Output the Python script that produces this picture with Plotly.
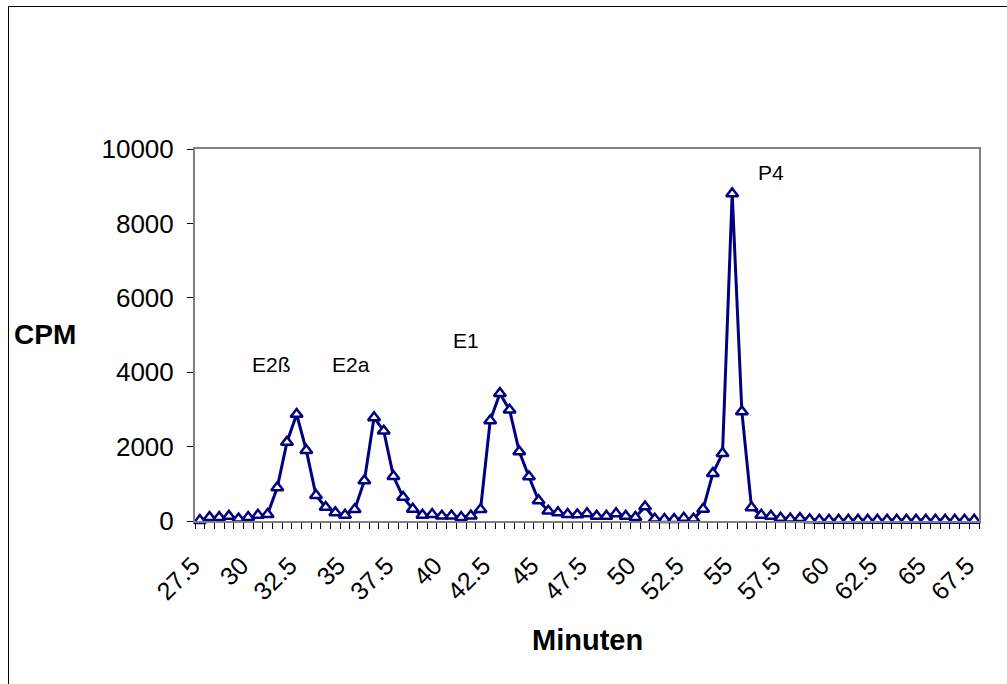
import numpy as np
import plotly.graph_objects as go

minutes = [27.5 + 0.5 * i for i in range(81)]
cpm = [20, 100, 100, 130, 60, 100, 160, 180, 900, 2120,
       2870, 1900, 690, 370, 225, 160, 310, 1085, 2780, 2420,
       1200, 640, 320, 160, 180, 135, 140, 100, 140, 310,
       2700, 3430, 2985, 1865, 1190, 550, 270, 225, 180, 170,
       200, 130, 130, 200, 130, 100, 385, 55, 45, 45,
       80, 55, 320, 1280, 1820, 8800, 2940, 360, 160, 130,
       80, 60, 70, 40, 25, 25, 25, 25, 25, 25,
       25, 25, 25, 25, 25, 25, 25, 25, 25, 25, 25]
tick_vals = [27.5 + 2.5 * k for k in range(17)]
tick_text = [("%g" % v) for v in tick_vals]
peak_labels = ["E2ß", "E2a", "E1", "P4"]
peak_pos = [(31.2, 4220), (35.3, 4220), (41.25, 4840), (57.0, 9380)]

FONT = "Liberation Sans, Arial, sans-serif"
NAVY = "#000080"

fig = go.Figure()
fig.add_trace(go.Scatter(
    x=minutes, y=cpm, mode="lines+markers",
    line=dict(color=NAVY, width=3),
    marker=dict(symbol="triangle-up", size=10.5, color="white",
                line=dict(color=NAVY, width=2.5)),
    showlegend=False, cliponaxis=False,
))

for txt, (px, py) in zip(peak_labels, peak_pos):
    fig.add_annotation(x=px, y=py, text=txt, showarrow=False,
                       xanchor="center", yanchor="middle",
                       font=dict(family=FONT, size=21, color="black"))

fig.add_annotation(xref="paper", yref="paper", x=(45 - 195) / 784, y=(521 - 334) / 372,
                   text="<b>CPM</b>", showarrow=False, xanchor="center", yanchor="middle",
                   font=dict(family=FONT, size=28, color="black"))
fig.add_annotation(xref="paper", yref="paper", x=(587 - 195) / 784, y=(521 - 640) / 372,
                   text="<b>Minuten</b>", showarrow=False, xanchor="center", yanchor="middle",
                   font=dict(family=FONT, size=29, color="black"))

# outer chart border
fig.add_shape(type="rect", xref="paper", yref="paper",
              x0=(8.5 - 195) / 784, x1=1.2, y0=-1.0, y1=(521 - 6.5) / 372,
              line=dict(color="black", width=1), fillcolor="rgba(0,0,0,0)", layer="below")

fig.update_layout(
    width=1007, height=684,
    margin=dict(l=195, r=28, t=149, b=163),
    paper_bgcolor="white", plot_bgcolor="white",
    font=dict(family=FONT, color="black"),
)
fig.update_xaxes(
    range=[27.25, 67.75], tickmode="array", tickvals=tick_vals, ticktext=tick_text,
    tickangle=-45, tickfont=dict(family=FONT, size=25, color="black"),
    ticks="outside", ticklen=10, tickcolor="rgba(0,0,0,0)",
    ticklabelstandoff=8, ticklabelshift=-7,
    showgrid=False, zeroline=False,
    showline=True, linecolor="#808080", linewidth=2, mirror=True,
    minor=dict(ticks="outside", tick0=27.25, dtick=0.5, ticklen=6,
               tickcolor="black", tickwidth=1, showgrid=False),
)
fig.update_yaxes(
    range=[0, 10000], dtick=2000, tick0=0, tickformat="d",
    tickfont=dict(family=FONT, size=26, color="black"),
    ticks="outside", ticklen=6, tickcolor="black", tickwidth=1,
    ticklabelstandoff=8,
    showgrid=False, zeroline=False,
    showline=True, linecolor="#808080", linewidth=2, mirror=True,
)

fig.write_html("out.html")
